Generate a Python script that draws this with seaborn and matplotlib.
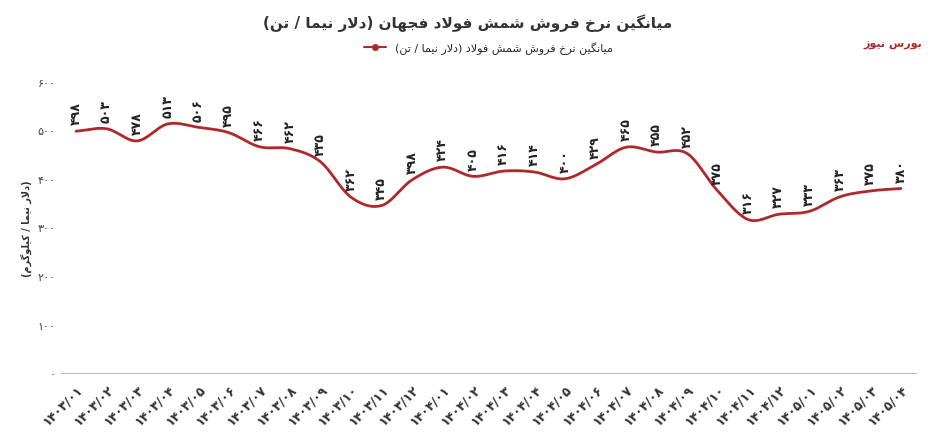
import numpy as np
import pandas as pd
import matplotlib.pyplot as plt
import seaborn as sns

sns.set_style("white")
plt.rcParams['font.family'] = ['DejaVu Sans']

# data
months = ['1403/01', '1403/02', '1403/03', '1403/04', '1403/05', '1403/06', '1403/07',
          '1403/08', '1403/09', '1403/10', '1403/11', '1403/12', '1404/01', '1404/02',
          '1404/03', '1404/04', '1404/05', '1404/06', '1404/07', '1404/08', '1404/09',
          '1404/10', '1404/11', '1404/12', '1405/01', '1405/02', '1405/03', '1405/04']
prices = [498, 503, 478, 513, 506, 495, 466, 462, 435, 362, 345, 398, 424, 405,
          416, 414, 400, 429, 465, 455, 452, 375, 316, 327, 333, 363, 375, 380]
yticks = [0, 100, 200, 300, 400, 500, 600]

title = 'میانگین نرخ فروش شمش فولاد فجهان (دلار نیما / تن)'
series_name = 'میانگین نرخ فروش شمش فولاد (دلار نیما / تن)'
ylabel = '(دلار نیما / کیلوگرم)'
brand = 'بورس نیوز'

FA = str.maketrans('0123456789', '۰۱۲۳۴۵۶۷۸۹')

# minimal Persian shaper: isolated, final, initial, medial
FORMS = {
    'ا': (0xFE8D, 0xFE8E, None, None), 'د': (0xFEA9, 0xFEAA, None, None),
    'ر': (0xFEAD, 0xFEAE, None, None), 'ز': (0xFEAF, 0xFEB0, None, None),
    'و': (0xFEED, 0xFEEE, None, None),
    'ت': (0xFE95, 0xFE96, 0xFE97, 0xFE98), 'ج': (0xFE9D, 0xFE9E, 0xFE9F, 0xFEA0),
    'خ': (0xFEA5, 0xFEA6, 0xFEA7, 0xFEA8), 'س': (0xFEB1, 0xFEB2, 0xFEB3, 0xFEB4),
    'ش': (0xFEB5, 0xFEB6, 0xFEB7, 0xFEB8), 'ف': (0xFED1, 0xFED2, 0xFED3, 0xFED4),
    'ل': (0xFEDD, 0xFEDE, 0xFEDF, 0xFEE0), 'م': (0xFEE1, 0xFEE2, 0xFEE3, 0xFEE4),
    'ن': (0xFEE5, 0xFEE6, 0xFEE7, 0xFEE8), 'ه': (0xFEE9, 0xFEEA, 0xFEEB, 0xFEEC),
    'ی': (0xFBFC, 0xFBFD, 0xFBFE, 0xFBFF), 'گ': (0xFB92, 0xFB93, 0xFB94, 0xFB95),
    'ک': (0xFB8E, 0xFB8F, 0xFB90, 0xFB91), 'ب': (0xFE8F, 0xFE90, 0xFE91, 0xFE92),
}
MIRROR = {'(': ')', ')': '('}


def shape(text):
    chars = list(text)
    out = []
    i = 0
    while i < len(chars):
        c = chars[i]
        prev = chars[i - 1] if i > 0 else None
        joins_prev = prev in FORMS and FORMS[prev][2] is not None
        if c == 'ل' and i + 1 < len(chars) and chars[i + 1] == 'ا':
            out.append(chr(0xFEFC if joins_prev else 0xFEFB))
            i += 2
            continue
        if c in FORMS:
            iso, fin, ini, med = FORMS[c]
            nxt = chars[i + 1] if i + 1 < len(chars) else None
            joins_next = ini is not None and nxt in FORMS
            if joins_prev and joins_next:
                out.append(chr(med))
            elif joins_prev:
                out.append(chr(fin))
            elif joins_next:
                out.append(chr(ini))
            else:
                out.append(chr(iso))
        else:
            out.append(MIRROR.get(c, c))
        i += 1
    return ''.join(reversed(out))


df = pd.DataFrame({'month': [m.translate(FA) for m in months], 'price': prices})
df['x'] = np.arange(len(df))

# smooth curve through the points (cubic Hermite, Catmull-Rom tangents)
x = df['x'].to_numpy(float)
y = df['price'].to_numpy(float)
m = np.gradient(y, x)
xs, ys = [], []
for k in range(len(x) - 1):
    t = np.linspace(0, 1, 20)
    h00 = 2 * t**3 - 3 * t**2 + 1
    h10 = t**3 - 2 * t**2 + t
    h01 = -2 * t**3 + 3 * t**2
    h11 = t**3 - t**2
    xs.extend(x[k] + t)
    ys.extend(h00 * y[k] + h10 * m[k] + h01 * y[k + 1] + h11 * m[k + 1])

color = '#B0282A'
fig = plt.figure(figsize=(9.35, 4.35), dpi=100)
ax = fig.add_axes([0.065, 0.14, 0.915, 0.67])

sns.lineplot(x=xs, y=ys, ax=ax, color=color, linewidth=2)
ax.plot([], [], color=color, marker='o', markersize=4, linewidth=1.5, label=shape(series_name))

for xi, yi in zip(df['x'], df['price']):
    ax.text(xi, yi + 14, str(yi).translate(FA), rotation=90, ha='center', va='bottom',
            fontsize=9, fontweight='bold', color='#222222')

ax.set_xlim(-0.5, len(df) - 0.5)
ax.set_ylim(0, 600)
ax.set_yticks(yticks)
ax.set_yticklabels([str(v).translate(FA) for v in yticks], fontsize=8, color='#444444')
ax.set_xticks(df['x'])
ax.set_xticklabels(df['month'], rotation=45, ha='right', rotation_mode='anchor',
                   fontsize=9, fontweight='bold', color='#333333')
ax.set_xlabel('')
ax.set_ylabel(shape(ylabel), fontsize=7, fontweight='bold', color='#333333')
for s in ['top', 'right', 'left']:
    ax.spines[s].set_visible(False)
ax.spines['bottom'].set_color('#bbbbbb')
ax.tick_params(axis='y', length=0)
ax.tick_params(axis='x', length=3, color='#bbbbbb')

leg = ax.legend(loc='lower center', bbox_to_anchor=(0.5, 1.06), frameon=False, fontsize=8)

fig.text(0.5, 0.935, shape(title), ha='center', fontsize=11, fontweight='bold', color='#333333')
fig.text(0.955, 0.89, shape(brand), ha='center', fontsize=8, color=color, fontweight='bold')

plt.savefig('out.png', dpi=100)
plt.close()
